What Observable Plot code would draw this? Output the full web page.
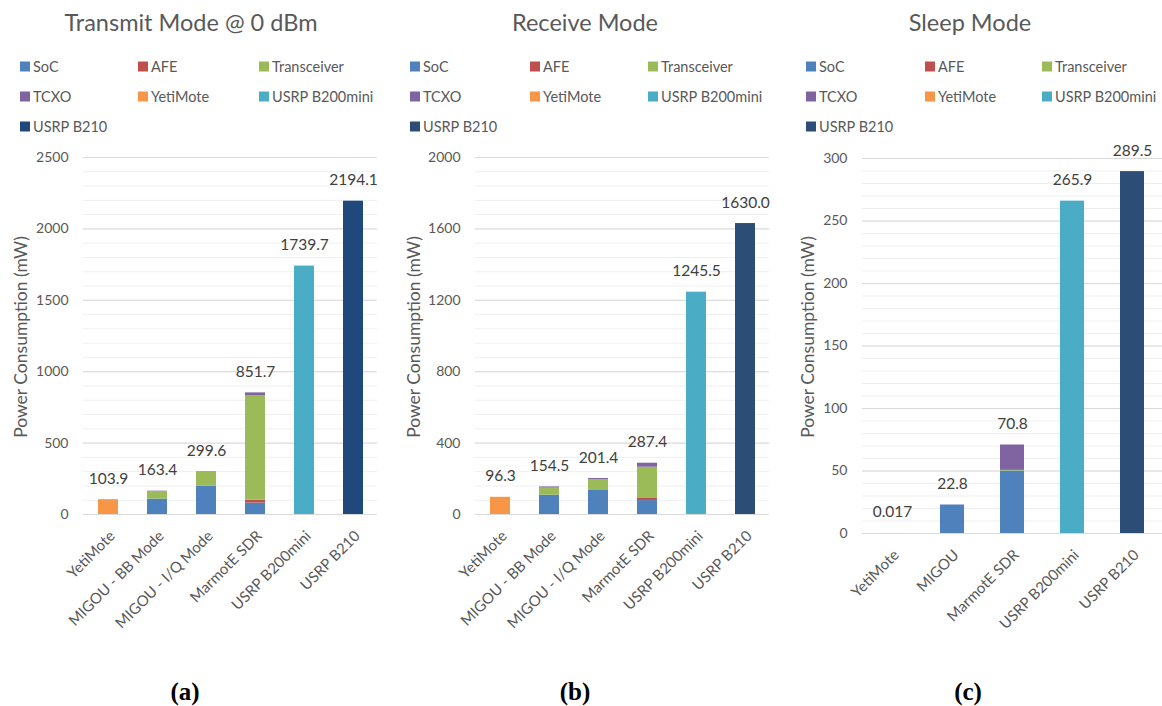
<!DOCTYPE html>
<html>
<head>
<meta charset="utf-8">
<script src="https://cdn.jsdelivr.net/npm/d3@7"></script>
<script src="https://cdn.jsdelivr.net/npm/@observablehq/plot@0.6"></script>
<style>
  html, body { margin: 0; padding: 0; background: #fff; }
  #page { position: relative; width: 1162px; height: 706px; overflow: hidden; font-family: Lato, "Open Sans", sans-serif; color: #595959; }
  .abs { position: absolute; }
  .title { font-size: 23.5px; white-space: nowrap; transform: translate(-50%, -50%); }
  .legend-item { font-size: 14.5px; white-space: nowrap; display: flex; align-items: center; transform: translateY(-50%); }
  .legend-item i { display: inline-block; width: 10px; height: 10px; margin-right: 3px; }
  .ylabel { font-size: 17.5px; white-space: nowrap; transform: translate(-50%, -50%) rotate(-90deg); }
  .caption { font-family: "Liberation Serif", "DejaVu Serif", serif; font-weight: bold; font-size: 25px; color: #000; transform: translate(-50%, -50%); }
</style>
</head>
<body>
<div id="page"></div>
<script>
// Components of each device's power draw, stacked in this order
const series = ["SoC", "AFE", "Transceiver", "TCXO", "YetiMote", "USRP B200mini", "USRP B210"];
const seriesColors = ["#4f81bd", "#c0504d", "#9bbb59", "#8064a2", "#f79646", "#4bacc6", "#1f497d"];
const seriesColorsDark = ["#4f81bd", "#c0504d", "#9bbb59", "#8064a2", "#f79646", "#4bacc6", "#2c4d75"];

// (a) Transmit mode @ 0 dBm, mW
const txDevices = ["YetiMote", "MIGOU - BB Mode", "MIGOU - I/Q Mode", "MarmotE SDR", "USRP B200mini", "USRP B210"];
const txSoC         = [0, 108, 198, 80, 0, 0];
const txAFE         = [0, 0, 0, 20, 0, 0];
const txTransceiver = [0, 52, 98, 730, 0, 0];
const txTCXO        = [0, 3.4, 3.6, 21.7, 0, 0];
const txYetiMote    = [103.9, 0, 0, 0, 0, 0];
const txB200mini    = [0, 0, 0, 0, 1739.7, 0];
const txB210        = [0, 0, 0, 0, 0, 2194.1];
const txTotals      = [103.9, 163.4, 299.6, 851.7, 1739.7, 2194.1];

// (b) Receive mode, mW
const rxDevices = ["YetiMote", "MIGOU - BB Mode", "MIGOU - I/Q Mode", "MarmotE SDR", "USRP B200mini", "USRP B210"];
const rxSoC         = [0, 108, 138, 78, 0, 0];
const rxAFE         = [0, 0, 0, 15, 0, 0];
const rxTransceiver = [0, 40, 56, 172, 0, 0];
const rxTCXO        = [0, 6.5, 7.4, 22.4, 0, 0];
const rxYetiMote    = [96.3, 0, 0, 0, 0, 0];
const rxB200mini    = [0, 0, 0, 0, 1245.5, 0];
const rxB210        = [0, 0, 0, 0, 0, 1630.0];
const rxTotals      = [96.3, 154.5, 201.4, 287.4, 1245.5, 1630.0];

// (c) Sleep mode, mW
const slDevices = ["YetiMote", "MIGOU", "MarmotE SDR", "USRP B200mini", "USRP B210"];
const slSoC         = [0, 22.8, 50, 0, 0];
const slAFE         = [0, 0, 0, 0, 0];
const slTransceiver = [0, 0, 0.5, 0, 0];
const slTCXO        = [0, 0, 20.3, 0, 0];
const slYetiMote    = [0.017, 0, 0, 0, 0];
const slB200mini    = [0, 0, 0, 265.9, 0];
const slB210        = [0, 0, 0, 0, 289.5];
const slTotals      = [0.017, 22.8, 70.8, 265.9, 289.5];

const page = document.getElementById("page");

function el(cls, left, top, html) {
  const d = document.createElement("div");
  d.className = "abs " + cls;
  d.style.left = left + "px";
  d.style.top = top + "px";
  d.innerHTML = html;
  page.appendChild(d);
  return d;
}

function rowsOf(devices, parts) {
  const rows = [];
  parts.forEach((values, k) => {
    devices.forEach((device, i) => {
      if (values[i] > 0) rows.push({device, part: series[k], value: values[i]});
    });
  });
  return rows;
}

const fmt = v => v < 1 ? String(v) : v.toFixed(1);

function panel(cfg) {
  el("title", cfg.titleX, 22, cfg.title);
  const cols = cfg.legendX;
  series.forEach((s, i) => {
    const col = i % 3, row = Math.floor(i / 3);
    el("legend-item", cols[col], 66 + row * 30,
      `<i style="background:${cfg.colors[i]}"></i>${s}`);
  });
  el("ylabel", cfg.ylabelX, 337, "Power Consumption (mW)");
  el("caption", cfg.captionX, 692, cfg.caption);

  const rows = rowsOf(cfg.devices, cfg.parts);
  const labels = cfg.devices.map((device, i) => ({device, total: cfg.totals[i]}));
  const chart = Plot.plot({
    width: cfg.width,
    height: 500,
    marginLeft: cfg.marginLeft,
    marginRight: cfg.marginRight,
    marginTop: cfg.marginTop,
    marginBottom: cfg.marginBottom,
    style: {fontFamily: "Lato, sans-serif", fontSize: "14px", color: "#595959", background: "transparent", overflow: "visible"},
    x: {domain: cfg.devices, paddingInner: 0.6, paddingOuter: 0.3, label: null, tickSize: 0, tickRotate: -45, tickPadding: 12},
    y: {domain: [0, cfg.max], label: null, ticks: d3.range(0, cfg.max + 1, cfg.major), tickFormat: d => String(d), tickSize: 0, tickPadding: 15},
    color: {domain: series, range: cfg.colors},
    marks: [
      Plot.ruleY(d3.range(0, cfg.max + 1, cfg.minor), {stroke: "#efefef"}),
      Plot.ruleY(d3.range(0, cfg.max + 1, cfg.major), {stroke: "#d9d9d9"}),
      Plot.barY(rows, {x: "device", y: "value", fill: "part"}),
      Plot.text(labels, {x: "device", y: "total", text: d => fmt(d.total), dy: -21, fontSize: 15.5, fill: "#404040"})
    ]
  });
  chart.style.position = "absolute";
  chart.style.left = cfg.left + "px";
  chart.style.top = "140px";
  // slightly larger category labels, nudged right and down from the tick
  let xg = chart.querySelector("g[aria-label='x-axis tick label']") || chart.querySelector("g[aria-label='x-axis']");
  if (xg) {
    xg.querySelectorAll("text").forEach(t => t.setAttribute("font-size", "15"));
    xg.setAttribute("transform", "translate(4,7) " + (xg.getAttribute("transform") || ""));
  }
  page.appendChild(chart);
}

panel({
  title: "Transmit Mode @ 0 dBm", titleX: 191, caption: "(a)", captionX: 185,
  legendX: [20, 138, 259], ylabelX: 20,
  left: 0, width: 390, marginLeft: 83, marginRight: 13, marginTop: 17, marginBottom: 126,
  max: 2500, major: 500, minor: 100,
  devices: txDevices, totals: txTotals, colors: seriesColors,
  parts: [txSoC, txAFE, txTransceiver, txTCXO, txYetiMote, txB200mini, txB210]
});

panel({
  title: "Receive Mode", titleX: 585, caption: "(b)", captionX: 575,
  legendX: [410, 530, 648], ylabelX: 413,
  left: 390, width: 390, marginLeft: 85, marginRight: 11, marginTop: 17, marginBottom: 126,
  max: 2000, major: 400, minor: 80,
  devices: rxDevices, totals: rxTotals, colors: seriesColorsDark,
  parts: [rxSoC, rxAFE, rxTransceiver, rxTCXO, rxYetiMote, rxB200mini, rxB210]
});

panel({
  title: "Sleep Mode", titleX: 970, caption: "(c)", captionX: 968,
  legendX: [806, 925, 1042], ylabelX: 807,
  left: 780, width: 382, marginLeft: 82, marginRight: 0, marginTop: 18, marginBottom: 107,
  max: 300, major: 50, minor: 10,
  devices: slDevices, totals: slTotals, colors: seriesColorsDark,
  parts: [slSoC, slAFE, slTransceiver, slTCXO, slYetiMote, slB200mini, slB210]
});
</script>
</body>
</html>
